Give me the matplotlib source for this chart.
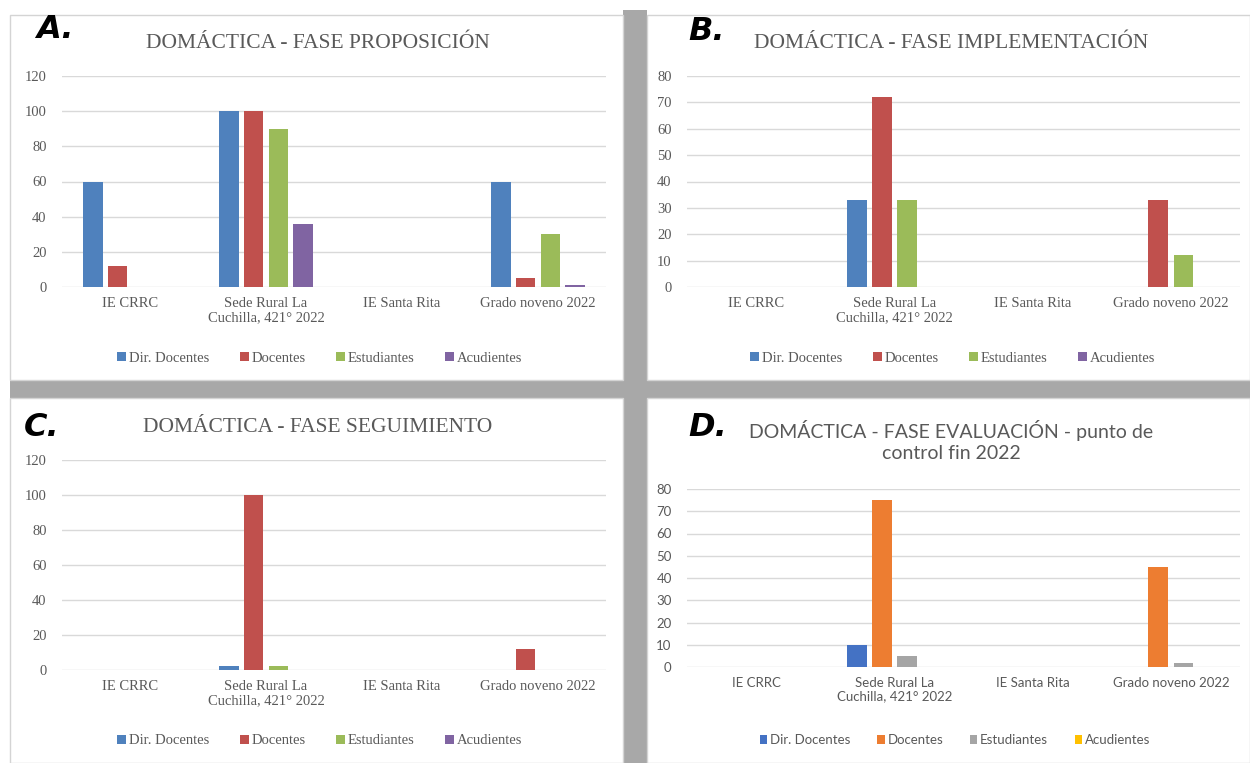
import matplotlib.pyplot as plt
import numpy as np
from matplotlib.patches import Rectangle

categories = ["IE CRRC", "Sede Rural La\nCuchilla, 421° 2022", "IE Santa Rita", "Grado noveno 2022"]
series = ["Dir. Docentes", "Docentes", "Estudiantes", "Acudientes"]

# A - proposicion
prop_dir = [60, 100, 0, 60]
prop_doc = [12, 100, 0, 5]
prop_est = [0, 90, 0, 30]
prop_acu = [0, 36, 0, 1]
# B - implementacion
impl_dir = [0, 33, 0, 0]
impl_doc = [0, 72, 0, 33]
impl_est = [0, 33, 0, 12]
impl_acu = [0, 0, 0, 0]
# C - seguimiento
seg_dir = [0, 2.5, 0, 0]
seg_doc = [0, 100, 0, 12]
seg_est = [0, 2.5, 0, 0]
seg_acu = [0, 0, 0, 0]
# D - evaluacion
eva_dir = [0, 10, 0, 0]
eva_doc = [0, 75, 0, 45]
eva_est = [0, 5, 0, 2]
eva_acu = [0, 0, 0, 0]

old_colors = ["#4F81BD", "#C0504D", "#9BBB59", "#8064A2"]
new_colors = ["#4472C4", "#ED7D31", "#A5A5A5", "#FFC000"]

W, H = 1250, 763
fig = plt.figure(figsize=(12.5, 7.63), dpi=100)


def fx(px):
    return px / W


def fy(py):
    return 1 - py / H


# grey shadows between the panels
for x0, y0, x1, y1 in [(10, 380, 1250, 398), (623, 10, 647, 763)]:
    fig.patches.append(Rectangle((fx(x0), fy(y1)), fx(x1 - x0), (y1 - y0) / H,
                                 transform=fig.transFigure, facecolor="#a8a8a8",
                                 edgecolor="none", zorder=0))
# white panel boxes
for x0, y0, x1, y1 in [(10, 15, 623, 380), (647, 15, 1250, 380),
                       (10, 398, 623, 763), (647, 398, 1250, 763)]:
    fig.patches.append(Rectangle((fx(x0), fy(y1)), fx(x1 - x0), (y1 - y0) / H,
                                 transform=fig.transFigure, facecolor="white",
                                 edgecolor="#d4d4d4", lw=1, zorder=0.5))


def panel(box, data, colors, ymax, step, font, sizes, title, title_xy, letter, letter_xy, leg_xy):
    tick_sz, title_sz, leg_sz, colsp = sizes
    x0, x1, ytop, ybot = box
    ax = fig.add_axes([fx(x0), fy(ybot), fx(x1 - x0), (ybot - ytop) / H])
    ax.set_zorder(2)
    ax.set_facecolor("none")
    x = np.arange(len(categories))
    w = 0.1427
    st = 0.181
    for i, (vals, c) in enumerate(zip(data, colors)):
        ax.bar(x + (i - 1.5) * st, vals, w, color=c, label=series[i], zorder=3)
    ax.set_xlim(-0.5, 3.5)
    ax.set_ylim(0, ymax)
    ax.set_yticks(np.arange(0, ymax + 1, step))
    ax.yaxis.grid(True, color="#d9d9d9", lw=1, zorder=0)
    for s in ax.spines.values():
        s.set_visible(False)
    ax.tick_params(length=0, colors="#595959", labelsize=tick_sz)
    ax.tick_params(axis="y", pad=11)
    ax.tick_params(axis="x", pad=7)
    ax.set_xticks(x)
    ax.set_xticklabels(categories, family=font, linespacing=1.1)
    for t in ax.get_yticklabels():
        t.set_family(font)
    fig.text(fx(title_xy[0]), fy(title_xy[1]), title, ha="center", va="center",
             family=font, size=title_sz, color="#595959", linespacing=1.35, zorder=3)
    fig.text(fx(letter_xy[0]), fy(letter_xy[1]), letter, ha="left", va="center",
             family="DejaVu Sans", style="italic", weight="bold", size=23, color="black",
             zorder=3)
    leg = fig.legend(*ax.get_legend_handles_labels(), loc="center",
                     bbox_to_anchor=(fx(leg_xy[0]), fy(leg_xy[1])), ncol=4, frameon=False,
                     handlelength=0.6, handleheight=0.6, handletextpad=0.2, columnspacing=colsp,
                     prop={"family": font, "size": leg_sz}, labelcolor="#595959")
    leg.set_zorder(3)
    return ax


serif = "Liberation Serif"
serif_sizes = (10.5, 15.5, 10.5, 2.1)
sans_sizes = (9.5, 14, 9.5, 2.0)
panel((62, 606, 76, 287), [prop_dir, prop_doc, prop_est, prop_acu], old_colors, 120, 20, serif,
      serif_sizes, "DOMÁCTICA - FASE PROPOSICIÓN", (318, 43), "A.", (36, 30), (320, 358))
panel((687, 1240, 76, 287), [impl_dir, impl_doc, impl_est, impl_acu], old_colors, 80, 10, serif,
      serif_sizes, "DOMÁCTICA - FASE IMPLEMENTACIÓN", (951, 43), "B.", (688, 32), (953, 358))
panel((62, 606, 460, 670), [seg_dir, seg_doc, seg_est, seg_acu], old_colors, 120, 20, serif,
      serif_sizes, "DOMÁCTICA - FASE SEGUIMIENTO", (318, 427), "C.", (24, 428), (320, 741))
panel((687, 1240, 489, 667), [eva_dir, eva_doc, eva_est, eva_acu], new_colors, 80, 10, "Lato",
      sans_sizes, "DOMÁCTICA - FASE EVALUACIÓN - punto de\ncontrol fin 2022", (951, 441),
      "D.", (688, 428), (955, 740))

fig.savefig("out.png", dpi=100, facecolor="white")
